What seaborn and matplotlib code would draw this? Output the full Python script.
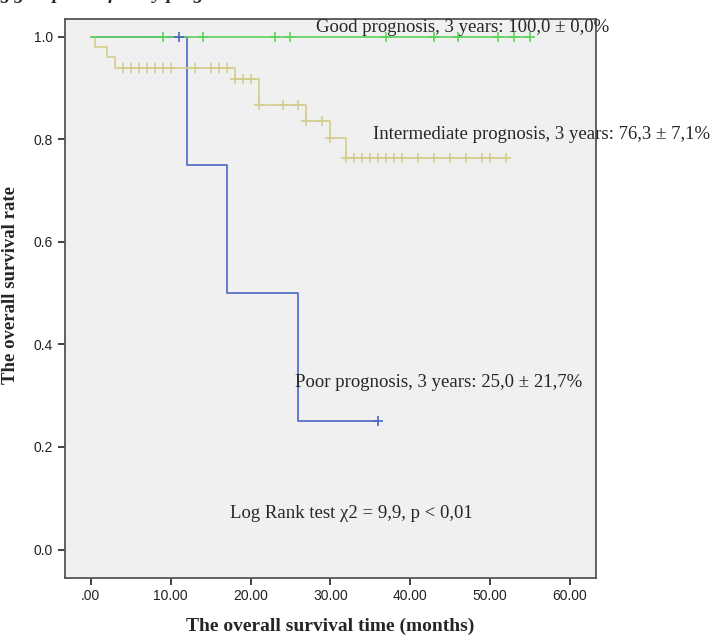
import numpy as np
import pandas as pd
import seaborn as sns
import matplotlib.pyplot as plt

# Kaplan-Meier steps (time in months, survival)
good_times = [0, 55]
good_surv = [1.0, 1.0]
good_censor = [9, 14, 23, 25, 37, 43, 46, 51, 53, 55]

inter_times = [0, 0.5, 2, 3, 18, 21, 27, 30, 32, 52]
inter_surv = [1.0, 0.98, 0.96, 0.94, 0.918, 0.867, 0.836, 0.802, 0.763, 0.763]
inter_censor = [4, 5, 6, 7, 8, 9, 10, 13, 15, 16, 17, 18, 19, 20, 21, 24, 26, 27, 29, 30,
                32, 33, 34, 35, 36, 37, 38, 39, 41, 43, 45, 47, 49, 50, 52]

poor_times = [0, 12, 17, 26, 36]
poor_surv = [1.0, 0.75, 0.5, 0.25, 0.25]
poor_censor = [11, 36]

groups = ['Poor', 'Intermediate', 'Good']
colors = {'Poor': '#4a68c4', 'Intermediate': '#d4cc8c', 'Good': '#5cd45c'}

x_ticks = [0, 10, 20, 30, 40, 50, 60]
x_ticklabels = ['.00', '10.00', '20.00', '30.00', '40.00', '50.00', '60.00']
y_ticks = [0.0, 0.2, 0.4, 0.6, 0.8, 1.0]

series = {'Poor': (poor_times, poor_surv, poor_censor),
          'Intermediate': (inter_times, inter_surv, inter_censor),
          'Good': (good_times, good_surv, good_censor)}

rows, cens = [], []
for g in groups:
    t, s, c = series[g]
    for ti, si in zip(t, s):
        rows.append({'time': ti, 'surv': si, 'group': g})
    t_arr = np.array(t)
    for ci in c:
        idx = np.searchsorted(t_arr, ci, side='right') - 1
        cens.append({'time': ci, 'surv': s[idx], 'group': g})
curves = pd.DataFrame(rows)
marks = pd.DataFrame(cens)

sns.set_style('white')
plt.rcParams['font.family'] = ['Liberation Sans', 'DejaVu Sans']

fig = plt.figure(figsize=(7.12, 6.38), dpi=100)
ax = fig.add_axes([0.0906, 0.0948, 0.7458, 0.8752])
ax.set_facecolor('#f0f0f0')

for g in groups:
    d = curves[curves.group == g]
    sns.lineplot(data=d, x='time', y='surv', ax=ax, color=colors[g], drawstyle='steps-post',
                 estimator=None, linewidth=1.2, legend=False)
    m = marks[marks.group == g]
    sns.scatterplot(data=m, x='time', y='surv', ax=ax, color=colors[g], marker='+',
                    s=45, linewidth=1.2, legend=False, zorder=3)

ax.set_xlim(-3.3, 63.2)
ax.set_ylim(-0.0546, 1.0345)
ax.set_xticks(x_ticks)
ax.set_xticklabels(x_ticklabels)
ax.set_yticks(y_ticks)
ax.set_yticklabels([f'{v:.1f}' for v in y_ticks])
ax.tick_params(direction='out', length=5, width=1.3, color='#333333', labelsize=10,
               labelcolor='#222222', bottom=True, left=True)
for sp in ax.spines.values():
    sp.set_color('#555555')
    sp.set_linewidth(1.3)

serif = ['Liberation Serif', 'DejaVu Serif']
ax.set_xlabel('The overall survival time (months)', family=serif, fontweight='bold',
              fontsize=14, labelpad=10)
ax.set_ylabel('The overall survival rate', family=serif, fontweight='bold',
              fontsize=13.5)
ax.yaxis.set_label_coords(-0.085, 0.524)

ax.text(28.2, 1.010, 'Good prognosis, 3 years: 100,0 \u00b1 0,0%', family=serif,
        fontsize=13.5, va='baseline', clip_on=False)
ax.text(35.3, 0.800, 'Intermediate prognosis, 3 years: 76,3 \u00b1 7,1%', family=serif,
        fontsize=13.5, va='baseline', clip_on=False)
ax.text(25.6, 0.317, 'Poor prognosis, 3 years: 25,0 \u00b1 21,7%', family=serif,
        fontsize=13.5, va='baseline')
ax.text(17.4, 0.07, 'Log Rank test \u03c72 = 9,9, p < 0,01', family=serif,
        fontsize=13.5, va='center')

# title cut off by the top of the image
fig.text(0.0, 0.996, 'g group stratified by prognostic score', family=serif, fontweight='bold',
         style='italic', fontsize=14, va='bottom')

fig.savefig('out.png', dpi=100)
